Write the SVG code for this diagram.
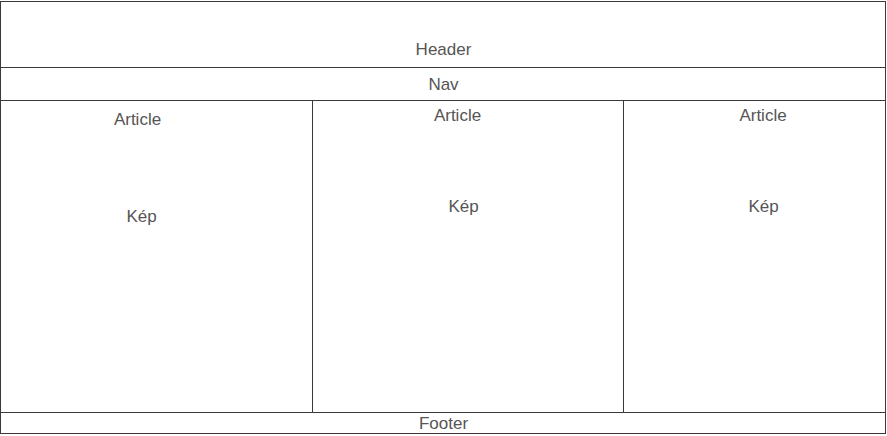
<svg xmlns="http://www.w3.org/2000/svg" width="887" height="436" viewBox="0 0 887 436">
<style>
.box{fill:#ffffff;stroke:#3a3a3a;stroke-width:1}
.t{font-family:"Liberation Sans",Arial,sans-serif;font-size:17px;fill:#555555;text-anchor:middle}
</style>
<rect width="887" height="436" fill="#ffffff"/>
<g id="header"><rect class="box" x="0.5" y="1.5" width="885" height="66"/><text class="t" x="443.5" y="55">Header</text></g>
<g id="nav"><rect class="box" x="0.5" y="67.5" width="885" height="33"/><text class="t" x="443.5" y="89.5">Nav</text></g>
<g id="article1"><rect class="box" x="0.5" y="100.5" width="312" height="312"/><text class="t" x="137.5" y="124.5">Article</text><text class="t" x="141.5" y="221.5">Kép</text></g>
<g id="article2"><rect class="box" x="312.5" y="100.5" width="311" height="312"/><text class="t" x="457.5" y="120.5">Article</text><text class="t" x="463.5" y="211.5">Kép</text></g>
<g id="article3"><rect class="box" x="623.5" y="100.5" width="262" height="312"/><text class="t" x="763" y="120.5">Article</text><text class="t" x="763.5" y="211.5">Kép</text></g>
<g id="footer"><rect class="box" x="0.5" y="412.5" width="885" height="21"/><text class="t" x="443.5" y="428.5">Footer</text></g>
<g id="connectors"></g>
</svg>
